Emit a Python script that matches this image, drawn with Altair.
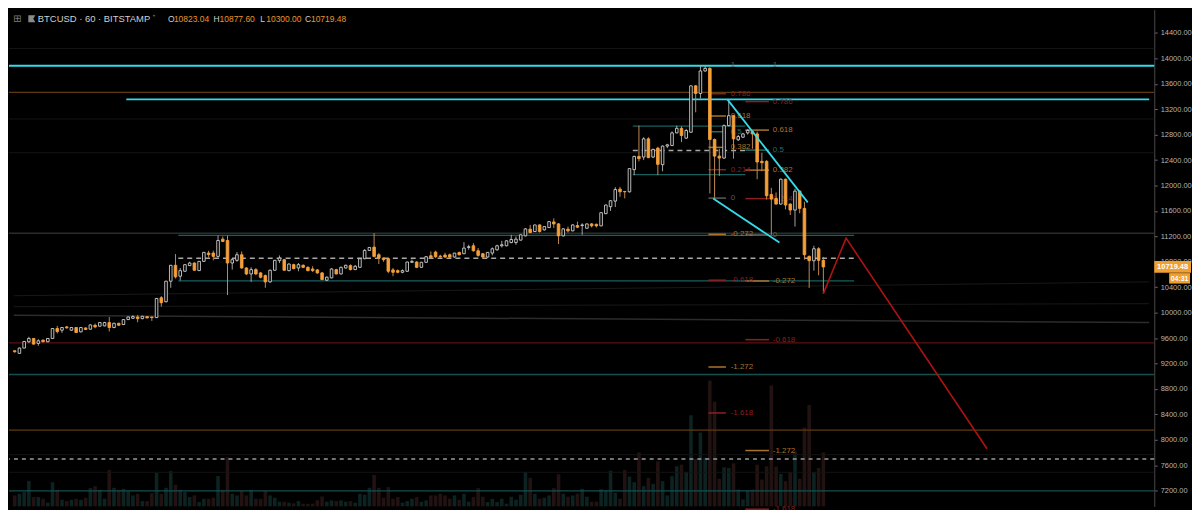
import altair as alt
import pandas as pd

# ---------------- data ----------------
opens = [9400, 9360, 9443, 9542, 9594, 9516, 9568, 9542, 9594, 9750, 9724, 9776, 9724, 9766, 9698, 9760, 9740, 9802, 9787, 9792,
         9844, 9766, 9833, 9813, 9891, 9911, 9932, 9906, 9938, 9932, 9922, 10234, 10172, 10495, 10745, 10573, 10651, 10740, 10781, 10661,
         10807, 10938, 10938, 10885, 11156, 11135, 10781, 10823, 10911, 10703, 10609, 10677, 10625, 10583, 10484, 10667, 10818, 10833, 10661, 10755,
         10703, 10745, 10713, 10687, 10672, 10625, 10510, 10547, 10677, 10609, 10703, 10740, 10677, 10713, 10849, 10979, 11031, 10911, 10859, 10849,
         10672, 10661, 10635, 10651, 10792, 10797, 10713, 10792, 10895, 10953, 10890, 10906, 10911, 10875, 10947, 10927, 11026, 11052, 10974, 10927,
         10875, 10937, 10989, 11052, 11052, 11104, 11104, 11141, 11208, 11313, 11276, 11380, 11302, 11339, 11427, 11396, 11208, 11313, 11287, 11370,
         11370, 11328, 11396, 11390, 11365, 11557, 11667, 11755, 11943, 11906, 11901, 12250, 12458, 12448, 12734, 12448, 12588, 12328, 12620, 12630,
         12828, 12900, 12745, 12838, 13568, 13448, 13802, 13843, 12724, 12463, 12432, 12942, 13099, 12719, 12760, 12828, 12849, 12812, 12380, 12380,
         11859, 11797, 11708, 12099, 11708, 11614, 11911, 11640, 10885, 10817, 11005, 10823.04]
highs = [9410, 9450, 9555, 9620, 9600, 9583, 9575, 9600, 9755, 9792, 9770, 9790, 9770, 9770, 9770, 9765, 9815, 9828, 9850, 9855,
         9932, 9840, 9840, 9895, 9940, 9960, 9964, 9950, 9945, 9935, 10230, 10261, 10500, 10750, 10922, 10703, 10760, 10800, 10790, 10812,
         10955, 10974, 10974, 11213, 11198, 11213, 10859, 10953, 10963, 10715, 10714, 10700, 10640, 10600, 10680, 10828, 10900, 10845, 10775, 10770,
         10781, 10760, 10730, 10730, 10685, 10640, 10570, 10700, 10690, 10725, 10755, 10760, 10750, 10855, 11000, 11030, 11250, 10937, 10870, 10860,
         10703, 10680, 10680, 10800, 10835, 10810, 10800, 10890, 10963, 10974, 10911, 10943, 10930, 10940, 10960, 11109, 11068, 11094, 11016, 10937,
         10953, 11026, 11068, 11130, 11140, 11224, 11198, 11230, 11330, 11380, 11380, 11390, 11360, 11440, 11484, 11410, 11330, 11354, 11390, 11432,
         11406, 11400, 11410, 11400, 11580, 11700, 11770, 11974, 11979, 11915, 12270, 12468, 12943, 12760, 12760, 12580, 12610, 12630, 12656, 12850,
         12943, 12930, 12890, 13570, 13580, 13880, 13880, 13860, 12740, 12578, 12960, 13360, 13110, 12797, 12828, 12890, 12870, 12850, 12515, 12400,
         11964, 11890, 12110, 12110, 11720, 11950, 11930, 11745, 10900, 11052, 11030, 10877.60]
lows = [9370, 9350, 9440, 9521, 9500, 9479, 9535, 9535, 9590, 9672, 9682, 9750, 9715, 9680, 9690, 9730, 9735, 9755, 9780, 9785,
        9703, 9755, 9795, 9805, 9885, 9905, 9849, 9895, 9910, 9870, 9915, 10094, 10160, 10391, 10537, 10505, 10645, 10735, 10660, 10655,
        10800, 10870, 10823, 10870, 11110, 10276, 10677, 10800, 10690, 10590, 10484, 10590, 10540, 10391, 10470, 10660, 10780, 10660, 10650, 10680,
        10651, 10700, 10650, 10640, 10610, 10510, 10495, 10540, 10600, 10600, 10695, 10665, 10670, 10705, 10840, 10970, 10870, 10765, 10800, 10620,
        10573, 10620, 10620, 10640, 10780, 10700, 10705, 10785, 10860, 10860, 10860, 10860, 10860, 10865, 10900, 10920, 10990, 10960, 10880, 10860,
        10865, 10900, 10974, 11026, 11045, 11090, 11068, 11135, 11200, 11250, 11270, 11260, 11290, 11330, 11330, 11078, 11200, 11260, 11280, 11330,
        11224, 11320, 11340, 11340, 11360, 11550, 11600, 11661, 11823, 11797, 11890, 12162, 12380, 12400, 12430, 12430, 12162, 12224, 12588, 12620,
        12820, 12682, 12735, 12830, 13151, 13370, 13790, 11875, 11807, 12151, 12420, 12930, 12422, 12700, 12750, 12800, 12578, 12099, 12224, 11780,
        11224, 11700, 11700, 11625, 11536, 11354, 11563, 10833, 10390, 10661, 10588, 10300.00]
closes = [9385, 9443, 9547, 9594, 9505, 9557, 9542, 9594, 9750, 9703, 9766, 9760, 9766, 9688, 9766, 9734, 9807, 9776, 9844, 9844,
          9766, 9833, 9802, 9891, 9932, 9938, 9906, 9943, 9917, 9922, 10224, 10156, 10495, 10745, 10563, 10661, 10755, 10781, 10667, 10807,
          10948, 10912, 10885, 11135, 11120, 10781, 10833, 10911, 10703, 10609, 10677, 10609, 10557, 10484, 10667, 10823, 10859, 10667, 10765, 10693,
          10755, 10713, 10661, 10661, 10625, 10521, 10557, 10687, 10609, 10713, 10745, 10677, 10729, 10849, 10979, 11026, 10885, 10859, 10833, 10651,
          10635, 10635, 10661, 10797, 10807, 10713, 10792, 10880, 10870, 10880, 10880, 10875, 10875, 10937, 10911, 11016, 11037, 10974, 10901, 10875,
          10948, 11005, 11052, 11068, 11130, 11151, 11156, 11224, 11318, 11260, 11380, 11276, 11354, 11432, 11396, 11208, 11318, 11287, 11380, 11344,
          11380, 11396, 11365, 11365, 11573, 11693, 11760, 11937, 11901, 11901, 12266, 12458, 12422, 12734, 12438, 12568, 12333, 12620, 12640, 12828,
          12900, 12786, 12865, 13568, 13448, 13802, 13843, 12724, 12463, 12432, 12942, 13099, 12734, 12770, 12812, 12865, 12812, 12370, 12359, 11838,
          11786, 11708, 12099, 11693, 11614, 11911, 11640, 10911, 10817, 11005, 10823, 10719.48]
volumes = [330, 380, 430, 770, 280, 280, 230, 110, 730, 500, 200, 160, 200, 230, 200, 260, 550, 610, 500, 230,
           1100, 560, 500, 530, 460, 330, 380, 160, 160, 400, 1010, 380, 560, 1070, 650, 500, 430, 280, 330, 130,
           230, 230, 260, 920, 500, 1480, 380, 330, 470, 330, 500, 230, 230, 470, 330, 260, 140, 140, 110, 90,
           160, 80, 80, 80, 180, 300, 140, 180, 160, 180, 140, 160, 110, 380, 350, 560, 950, 560, 260, 580,
           230, 280, 110, 160, 230, 280, 140, 180, 330, 330, 380, 330, 230, 330, 200, 380, 140, 280, 550, 290,
           130, 230, 130, 230, 80, 290, 200, 350, 1040, 860, 380, 230, 260, 330, 550, 970, 380, 290, 330, 380,
           530, 290, 140, 140, 520, 480, 1080, 410, 230, 1100, 900, 730, 1630, 610, 860, 680, 1360, 760, 330, 910,
           1210, 1260, 1030, 2750, 1430, 2230, 1470, 3800, 3160, 830, 1180, 1160, 1300, 510, 210, 470, 510, 1260, 810, 1210,
           3650, 1200, 980, 760, 1030, 1660, 830, 2380, 3060, 1030, 1160, 1630]

price_ticks = [7200, 7600, 8000, 8400, 8800, 9200, 9600, 10000, 10400, 10800, 11200, 11600, 12000, 12400, 12800, 13200, 13600, 14000, 14400]

# horizontal levels spanning the whole chart
full_cyan = [13885]
full_grey = [11250]
full_red = [9523]
full_teal = [9027, 7198]
full_brown = [8152, 13464]
full_dashed = [7698]
full_faint = [7766, 7489, 14156, 13047, 12516]

# partial / sloped lines: start bar, end bar, start price, end price
seg_cyan_x0, seg_cyan_x1, seg_cyan_p0, seg_cyan_p1 = [23.6], [239.9], [13355], [13355]
seg_teal_x0 = [34.6, 34.6, 130.7, 130.7]
seg_teal_x1 = [177.5, 177.5, 154.5, 154.5]
seg_teal_p0 = [11214, 10500, 12933, 12172]
seg_teal_p1 = [11214, 10500, 12933, 12172]
seg_dash_x0, seg_dash_x1, seg_dash_p0, seg_dash_p1 = [34.6, 130.7], [177.5, 155.3], [10855, 12552], [10855, 12552]
seg_grey_x0, seg_grey_x1, seg_grey_p0, seg_grey_p1 = [-0.2], [239.9], [9961], [9844]
seg_faint_x0, seg_faint_x1, seg_faint_p0, seg_faint_p1 = [-0.2, -0.2], [239.9, 239.9], [10266, 10094], [10484, 10141]

# wedge trend lines
trend_x0, trend_x1 = [150.7, 147.7], [167.7, 161.7]
trend_p0, trend_p1 = [13355, 11797], [11734, 11102]

# projected path
proj_x = [171, 175.8, 205.6]
proj_p = [10300, 11172, 7859]

# fibonacci labels
fib_levels = ["1", "0.786", "0.618", "0.5", "0.382", "0.214", "0", "-0.272", "-0.618", "-1.272", "-1.618"]
fib_left_prices = [13891, 13444, 13093, 12846, 12600, 12249, 11802, 11233, 10511, 9145, 8422]
fib_right_prices = [13891, 13320, 12872, 12557, 12242, 11794, 11223, 10498, 9575, 7831, 6908]

title_text = "BTCUSD · 60 · BITSTAMP"
ohlc_letters = ["O", "H", "L", "C"]
ohlc_values = ["10823.04", "10877.60", "10300.00", "10719.48"]
last_price = 10719.48
countdown = "04:31"

# ---------------- styling ----------------
W, H = 1153, 500
XS = alt.Scale(domain=[-0.155, 239.92], nice=False, zero=False)
YS = alt.Scale(domain=[6953.1, 14765.6], nice=False, zero=False)
VS = alt.Scale(domain=[0, 15000], nice=False, zero=False)
FONT = "Liberation Sans"
YAXIS = alt.Axis(orient="right", values=price_ticks, format=".2f", labelColor="#b4b4b4", labelFont=FONT,
                 labelFontSize=7.5, tickColor="#6a6a6a", tickSize=3, domainColor="#4a4a4a", grid=False,
                 title=None, labelPadding=3, labelOverlap=False)

level_color = {"1": "#5c5c5c", "0.786": "#8e1f1f", "0.618": "#a8742c", "0.5": "#1f6e6e", "0.382": "#a8742c",
               "0.214": "#8e1f1f", "0": "#5c5c5c", "-0.272": "#a8742c", "-0.618": "#8e1f1f",
               "-1.272": "#a8742c", "-1.618": "#8e1f1f"}


def X(f):
    return alt.X(f, type="quantitative", scale=XS, axis=None)


def Y(f):
    return alt.Y(f, type="quantitative", scale=YS, axis=YAXIS)


df = pd.DataFrame({"i": list(range(len(opens))), "open": opens, "high": highs, "low": lows,
                   "close": closes, "volume": volumes})
up = "datum.close >= datum.open"
down = "datum.close < datum.open"

# volume
vol_base = alt.Chart(df).encode(x=X("i"), y=alt.Y("volume", type="quantitative", scale=VS, axis=None))
vol = alt.layer(
    vol_base.transform_filter(up).mark_bar(width=3.6, color="#0c2322"),
    vol_base.transform_filter(down).mark_bar(width=3.6, color="#231212"),
)


def full_rules(vals, color, width=1.0, dash=None, opacity=1.0):
    kw = dict(color=color, strokeWidth=width, opacity=opacity)
    if dash:
        kw["strokeDash"] = dash
    return alt.Chart(pd.DataFrame({"p": vals})).mark_rule(**kw).encode(y=Y("p"))


def segs(x0, x1, p0, p1, color, width=1.0, dash=None):
    kw = dict(color=color, strokeWidth=width)
    if dash:
        kw["strokeDash"] = dash
    d = pd.DataFrame({"x0": x0, "x1": x1, "p0": p0, "p1": p1})
    return alt.Chart(d).mark_rule(**kw).encode(x=X("x0"), x2=alt.X2("x1"), y=Y("p0"), y2=alt.Y2("p1"))


lines = [
    full_rules(full_faint, "#141414"),
    segs(seg_faint_x0, seg_faint_x1, seg_faint_p0, seg_faint_p1, "#181818"),
    segs(seg_grey_x0, seg_grey_x1, seg_grey_p0, seg_grey_p1, "#2c2c2c", 1.5),
    full_rules(full_grey, "#2c2c2c", 1.5),
    full_rules(full_red, "#5e1010", 1.3),
    full_rules(full_teal, "#15504f", 1.3),
    full_rules(full_brown, "#5e3b10", 1.3),
    full_rules(full_dashed, "#9a9a9a", 1.3, [4, 4]),
    segs(seg_teal_x0, seg_teal_x1, seg_teal_p0, seg_teal_p1, "#17605f", 1.3),
    segs(seg_dash_x0, seg_dash_x1, seg_dash_p0, seg_dash_p1, "#a8a8a8", 1.5, [5, 4]),
    full_rules(full_cyan, "#33dcea", 2),
    segs(seg_cyan_x0, seg_cyan_x1, seg_cyan_p0, seg_cyan_p1, "#33dcea", 2),
]

# fib labels
fib_rows = []
for side, prices, lx0, lx1, tx in (("L", fib_left_prices, 146.7, 150.4, 151.4),
                                   ("R", fib_right_prices, 154.5, 159.5, 160.3)):
    for lev, p in zip(fib_levels, prices):
        fib_rows.append({"lev": lev, "p": p, "x0": lx0, "x1": lx1, "tx": tx})
fib_df = pd.DataFrame(fib_rows)
FC = alt.Color("lev:N", scale=alt.Scale(domain=list(level_color.keys()), range=list(level_color.values())), legend=None)
fib_lines = alt.Chart(fib_df).transform_filter("datum.lev != '1'").mark_rule(strokeWidth=1.5).encode(
    x=X("x0"), x2=alt.X2("x1"), y=Y("p"), color=FC)
fib_text = alt.Chart(fib_df).mark_text(align="left", baseline="middle", font=FONT, fontSize=8).encode(
    x=X("tx"), y=Y("p"), text="lev:N", color=FC)

# candles
cbase = alt.Chart(df)
wick_up = cbase.transform_filter(up).mark_rule(color="#a3a3a3", strokeWidth=1).encode(x=X("i"), y=Y("low"), y2=alt.Y2("high"))
wick_dn = cbase.transform_filter(down).mark_rule(color="#c08a52", strokeWidth=1).encode(x=X("i"), y=Y("low"), y2=alt.Y2("high"))
body_up = cbase.transform_filter(up).mark_bar(width=2.6, fill="#000000", stroke="#d0d0d0", strokeWidth=0.9).encode(
    x=X("i"), y=Y("open"), y2=alt.Y2("close"))
body_dn = cbase.transform_filter(down).mark_bar(width=2.6, fill="#f5a03a", stroke="#f5a03a", strokeWidth=0.9).encode(
    x=X("i"), y=Y("open"), y2=alt.Y2("close"))

trend = segs(trend_x0, trend_x1, trend_p0, trend_p1, "#33dcea", 1.8)
proj = alt.Chart(pd.DataFrame({"x": proj_x, "p": proj_p, "o": [0, 1, 2]})).mark_line(
    color="#b01212", strokeWidth=1.6).encode(x=X("x"), y=Y("p"), order="o:Q")


# header
def txt(s, x, y, color, size, weight="normal", align="left", font=FONT):
    return alt.Chart(pd.DataFrame({"t": [s]})).mark_text(
        align=align, baseline="middle", font=font, fontSize=size, color=color, fontWeight=weight
    ).encode(x=alt.value(x), y=alt.value(y), text="t:N")


header = [
    txt("⊞", 4, 9, "#7a7a7a", 10, font="DejaVu Sans"),
    alt.Chart(pd.DataFrame({"t": [0]})).mark_point(
        shape="M-1,-1H1L0.4,0L1,1H-1Z", size=50, filled=True, color="#8a8a8a", opacity=1
    ).encode(x=alt.value(23), y=alt.value(9)),
    txt(title_text, 29, 9, "#cfcfcf", 9.5),
    txt("˅", 144, 9, "#9a9a9a", 8, font="DejaVu Sans"),
]
ox = [160, 206, 253, 298]
for letter, val, x in zip(ohlc_letters, ohlc_values, ox):
    header.append(txt(letter, x, 9.5, "#cfcfcf", 8.5))
    header.append(txt(val, x + 6, 9.5, "#e8952f", 8.5))

# last price tag on the axis
lp = pd.DataFrame({"p": [last_price], "t": [f"{last_price:.2f}"], "c": [countdown]})
tag = [
    alt.Chart(lp).mark_point(shape="M-1,-0.32H1V0.32H-1Z", size=1369, filled=True, color="#f0a030", opacity=1)
    .encode(x=alt.value(W + 18.5), y=Y("p")),
    alt.Chart(lp).mark_text(align="center", baseline="middle", font=FONT, fontSize=7.5, fontWeight="bold", color="#ffffff")
    .encode(x=alt.value(W + 18.5), y=Y("p"), text="t:N"),
    alt.Chart(lp).mark_point(shape="M-1,-0.5H1V0.5H-1Z", size=441, filled=True, color="#f0a030", opacity=1, yOffset=11.5)
    .encode(x=alt.value(W + 25.5), y=Y("p")),
    alt.Chart(lp).mark_text(align="center", baseline="middle", font=FONT, fontSize=7, fontWeight="bold", color="#ffffff", yOffset=12)
    .encode(x=alt.value(W + 25.5), y=Y("p"), text="c:N"),
]

price_layer = alt.layer(*lines, fib_lines, fib_text, wick_up, wick_dn, body_up, body_dn, trend, proj, *header, *tag)

chart = alt.layer(vol, price_layer).resolve_scale(y="independent").properties(
    width=W, height=H, background="#000000", padding={"left": 0, "top": 0, "right": 0, "bottom": 0}
).configure_view(stroke=None)

chart.save("out.html", embed_options={"renderer": "svg", "actions": False})
